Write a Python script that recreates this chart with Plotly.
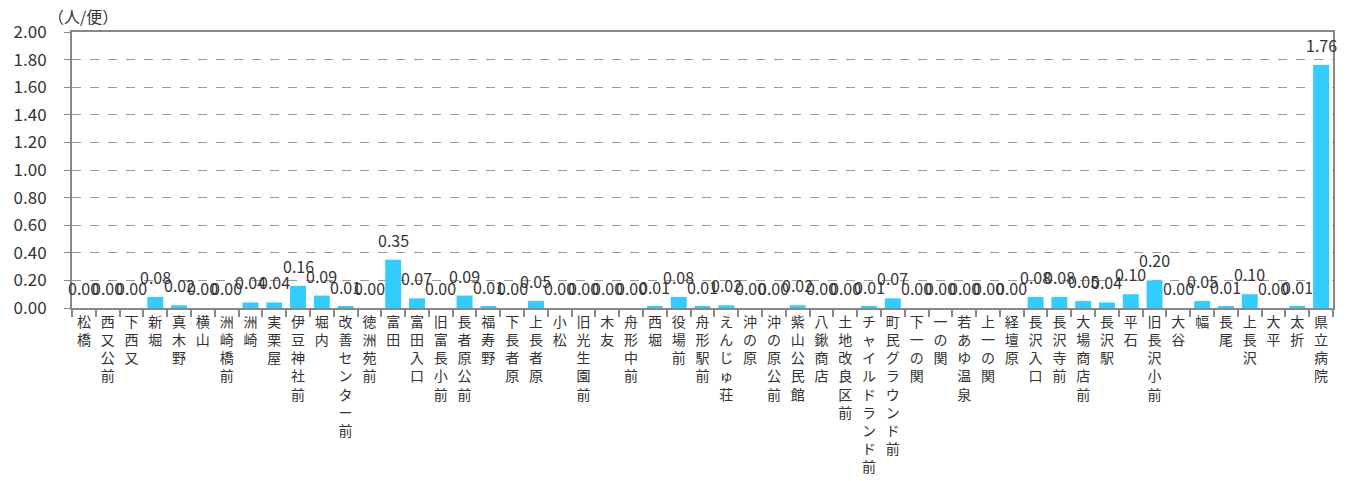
import plotly.graph_objects as go

stops = ["松橋", "西又公前", "下西又", "新堀", "真木野", "横山", "洲崎橋前", "洲崎", "実栗屋", "伊豆神社前",
         "堀内", "改善センター前", "徳洲苑前", "富田", "富田入口", "旧富長小前", "長者原公前", "福寿野", "下長者原", "上長者原",
         "小松", "旧光生園前", "木友", "舟形中前", "西堀", "役場前", "舟形駅前", "えんじゅ荘", "沖の原", "沖の原公前",
         "紫山公民館", "八鍬商店", "土地改良区前", "チャイルドランド前", "町民グラウンド前", "下一の関", "一の関", "若あゆ温泉", "上一の関", "経壇原",
         "長沢入口", "長沢寺前", "大場商店前", "長沢駅", "平石", "旧長沢小前", "大谷", "幅", "長尾", "上長沢",
         "大平", "太折", "県立病院"]
values = [0.00, 0.00, 0.00, 0.08, 0.02, 0.00, 0.00, 0.04, 0.04, 0.16,
          0.09, 0.01, 0.00, 0.35, 0.07, 0.00, 0.09, 0.01, 0.00, 0.05,
          0.00, 0.00, 0.00, 0.00, 0.01, 0.08, 0.01, 0.02, 0.00, 0.00,
          0.02, 0.00, 0.00, 0.01, 0.07, 0.00, 0.00, 0.00, 0.00, 0.00,
          0.08, 0.08, 0.05, 0.04, 0.10, 0.20, 0.00, 0.05, 0.01, 0.10,
          0.00, 0.01, 1.76]
y_ticks = [0.0, 0.2, 0.4, 0.6, 0.8, 1.0, 1.2, 1.4, 1.6, 1.8, 2.0]
unit_label = "（人/便）"

FONT = "Noto Sans CJK JP"
TXT = "#333333"
vertical = ["<br>".join(list(s)) for s in stops]

fig = go.Figure()
fig.add_trace(go.Bar(
    x=stops, y=values,
    marker=dict(color="#33CCFF", line=dict(width=0)),
    hoverinfo="x+y",
))

# value labels above bars
annotations = [dict(x=s, y=v, xref="x", yref="y", text=f"{v:.2f}", showarrow=False,
                    xanchor="center", yanchor="bottom", yshift=6,
                    font=dict(family=FONT, size=16, color=TXT))
               for s, v in zip(stops, values)]
annotations.append(dict(text=unit_label, xref="paper", yref="paper", x=-0.021, y=1.0,
                        xanchor="left", yanchor="bottom", yshift=2, showarrow=False,
                        font=dict(family=FONT, size=16, color=TXT)))

fig.update_layout(
    width=1355, height=481,
    margin=dict(l=72, r=22, t=32, b=173),
    paper_bgcolor="white", plot_bgcolor="white",
    bargap=0.33,
    showlegend=False,
    font=dict(family=FONT, color=TXT),
    annotations=annotations,
)
fig.update_xaxes(
    type="category",
    range=[-0.5, len(stops) - 0.5],
    tickmode="array", tickvals=stops, ticktext=vertical,
    tickangle=0,
    tickfont=dict(family=FONT, size=14, color=TXT),
    showline=True, linecolor="#888888", linewidth=2, mirror=True,
    ticks="outside", ticklen=7, tickcolor="#888888", tickwidth=1.5,
    tickson="boundaries",
    showgrid=False,
    automargin=False,
)
fig.update_yaxes(
    range=[0, 2.0],
    tickmode="array", tickvals=y_ticks, ticktext=[f"{v:.2f}" for v in y_ticks],
    tickfont=dict(family=FONT, size=17, color=TXT),
    showline=True, linecolor="#888888", linewidth=2, mirror=True,
    ticks="outside", ticklen=6, tickcolor="#888888",
    ticklabelstandoff=14,
    showgrid=True, gridcolor="#999999", griddash="dash", gridwidth=1,
    zeroline=False,
    automargin=False,
)

# remove the default page margin so the figure sits at the window's top-left corner
fig.write_html("out.html",
               config={"displayModeBar": False},
               post_script="document.body.style.margin='0';document.body.style.overflow='hidden';")
